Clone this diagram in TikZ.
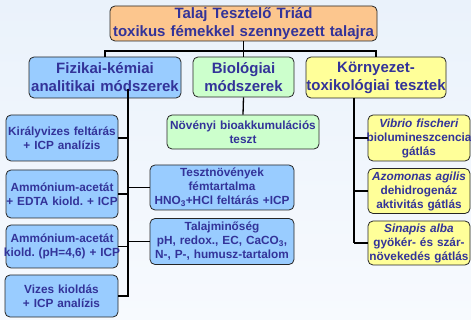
\documentclass[tikz,border=0pt]{standalone}
\usepackage{fontspec}
\setmainfont{Liberation Sans}
\frenchspacing
\definecolor{txt}{RGB}{51,51,153}
\definecolor{orangef}{RGB}{252,198,142}
\definecolor{bluef}{RGB}{153,204,255}
\definecolor{greenf}{RGB}{204,255,204}
\definecolor{yellowf}{RGB}{255,255,153}
\definecolor{bgtop}{RGB}{234,242,251}
\definecolor{bgbot}{RGB}{247,250,254}
\newcommand{\cl}[1]{\makebox[\hsize]{#1}}
\begin{document}
\begin{tikzpicture}[x=1pt,y=-1pt,
  box/.style={draw=black!85, line width=0.8pt, rounded corners=5pt, text=txt,
    inner xsep=1pt, inner ysep=0pt, align=center, font=\bfseries\fontsize{11.8}{14}\selectfont},
  head/.style={box, font=\bfseries\fontsize{15}{18}\selectfont},
  conn/.style={line width=1.3pt, black}]
\shade[top color=bgtop, bottom color=bgbot] (0,0) rectangle (471,320);
\useasboundingbox (0,0) rectangle (471,320);

% top level
\node[head, fill=orangef, text width=265pt, minimum height=35pt] (title) at (243.5,23.5)
  {Talaj Tesztelő Triád\\\cl{toxikus fémekkel szennyezett talajra}};
\node[head, fill=bluef, text width=150pt, minimum height=41pt] (fiz) at (105,77.5)
  {Fizikai-kémiai\\\cl{analitikai módszerek}};
\node[head, fill=greenf, text width=99pt, minimum height=40pt] (bio) at (243.5,77)
  {Biológiai\\módszerek};
\node[head, fill=yellowf, text width=138pt, minimum height=41pt] (korny) at (376,77.5)
  {Környezet-\\\cl{toxikológiai tesztek}};

% left column
\node[box, fill=bluef, text width=110pt, minimum height=46pt] (kiraly) at (62,138)
  {Királyvizes feltárás\\+ ICP analízis};
\node[box, fill=bluef, text width=110pt, minimum height=48pt] (amm1) at (62,194)
  {Ammónium-acetát\\\cl{+ EDTA kiold. + ICP}};
\node[box, fill=bluef, text width=110pt, minimum height=43pt] (amm2) at (62,246.5)
  {Ammónium-acetát\\\cl{kiold. (pH=4,6) + ICP}};
\node[box, fill=bluef, text width=111pt, minimum height=42pt] (vizes) at (61.5,296)
  {Vizes kioldás\\+ ICP analízis};

% middle column
\node[box, fill=greenf, text width=150pt, minimum height=34pt] (noveny) at (243,132)
  {Növényi bioakkumulációs\\teszt};
\node[box, fill=bluef, text width=142pt, minimum height=45pt] (teszt) at (222,187.5)
  {Tesztnövények\\fémtartalma\\\cl{HNO\textsubscript{3}+HCl feltárás +ICP}};
\node[box, fill=bluef, text width=142pt, minimum height=46pt] (talaj) at (222,241.5)
  {Talajminőség\\pH, redox., EC, CaCO\textsubscript{3},\\\cl{N-, P-, humusz-tartalom}};

% right column
\node[box, fill=yellowf, text width=100pt, minimum height=46pt] (vibrio) at (419,138)
  {\textit{Vibrio fischeri}\\\cl{biolumineszcencia}\\gátlás};
\node[box, fill=yellowf, text width=100pt, minimum height=45pt] (azo) at (419,191)
  {\textit{Azomonas agilis}\\dehidrogenáz\\\cl{aktivitás gátlás}};
\node[box, fill=yellowf, text width=100pt, minimum height=44pt] (sin) at (419,243)
  {\textit{Sinapis alba}\\\cl{gyökér- és szár-}\\\cl{növekedés gátlás}};

% connectors
\coordinate (j) at (243.5,51);
\draw[conn] (title.south) -- (bio.north);
\draw[conn] (fiz.north) |- (j) -| (korny.north);
\draw[conn] (bio.south) -- (noveny.north);

\coordinate (ft) at (128,89);
\coordinate (fb) at (128,297);
\draw[conn] (ft) -- (fb);
\draw[conn] (kiraly.east) -- (kiraly.east -| ft);
\draw[conn] (amm1.east) -- (amm1.east -| ft);
\draw[conn] (amm2.east) -- (amm2.east -| ft);
\draw[conn] (vizes.east) -- (vizes.east -| ft);
\draw[conn] (teszt.west) -- (teszt.west -| ft);
\draw[conn] (talaj.west) -- (talaj.west -| ft);

\coordinate (kt) at (354,98);
\coordinate (kb) at (354,243);
\draw[conn] (kt) -- (kb);
\draw[conn] (vibrio.west) -- (vibrio.west -| kt);
\draw[conn] (azo.west) -- (azo.west -| kt);
\draw[conn] (sin.west) -- (sin.west -| kt);
\end{tikzpicture}
\end{document}
